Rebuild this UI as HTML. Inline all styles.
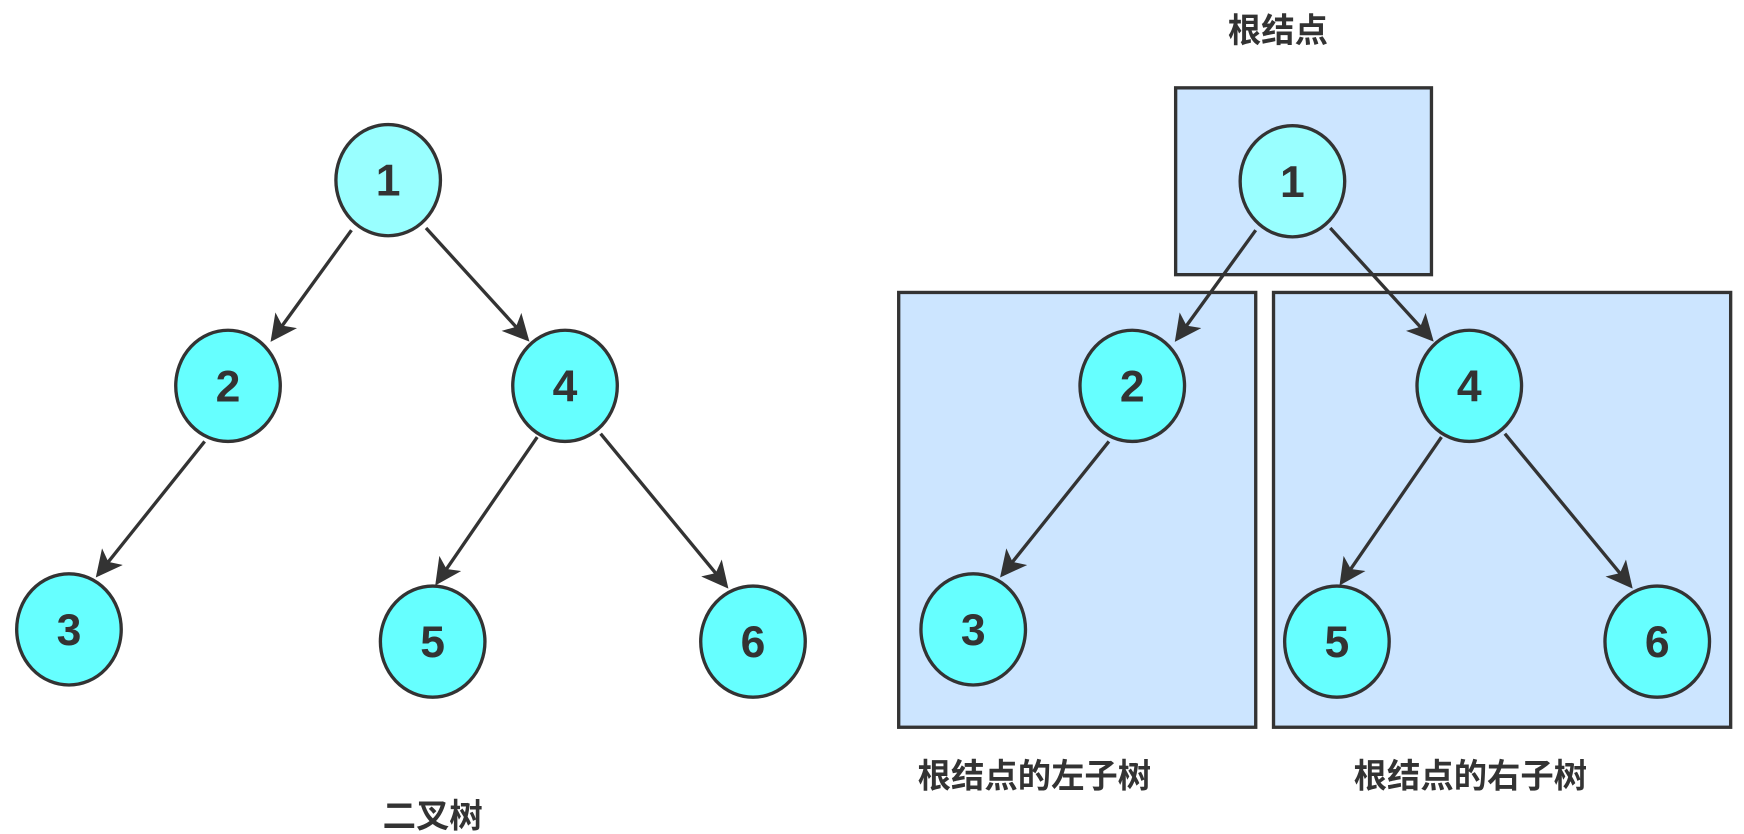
<!DOCTYPE html>
<html><head><meta charset="utf-8"><style>
html,body{margin:0;padding:0;background:#fff;width:1744px;height:834px;overflow:hidden}
svg{display:block}
text{font-family:"Liberation Sans","Noto Sans CJK SC",sans-serif;font-weight:bold;fill:#333}
</style></head><body>
<svg width="1744" height="834" viewBox="0 0 1568 750" preserveAspectRatio="none">
<defs><marker id="a" markerWidth="8" markerHeight="8" refX="7" refY="4" orient="auto" markerUnits="strokeWidth"><path d="M0,0 L8,4 L0,8 L2,4 Z" fill="#333"/></marker></defs>
<g stroke="#333" stroke-width="3" fill="#cce5ff">
<rect x="1057" y="79" width="230" height="168"/>
<rect x="808" y="263" width="321" height="391"/>
<rect x="1145" y="263" width="411" height="391"/>
</g>
<g stroke="#333" stroke-width="3" marker-end="url(#a)">
<line x1="316" y1="207" x2="245" y2="305"/>
<line x1="383" y1="205" x2="474" y2="305"/>
<line x1="184" y1="397" x2="88" y2="517"/>
<line x1="483" y1="393" x2="393" y2="524"/>
<line x1="540" y1="390" x2="653" y2="527"/>
<line x1="1129" y1="207" x2="1058" y2="305"/>
<line x1="1196" y1="205" x2="1287" y2="305"/>
<line x1="997" y1="397" x2="901" y2="517"/>
<line x1="1296" y1="393" x2="1206" y2="524"/>
<line x1="1353" y1="390" x2="1466" y2="527"/>
</g>
<g stroke="#333" stroke-width="3" fill="#66ffff">
<ellipse cx="349" cy="162" rx="47" ry="50" fill="#99ffff"/>
<ellipse cx="205" cy="347" rx="47" ry="50"/>
<ellipse cx="508" cy="347" rx="47" ry="50"/>
<ellipse cx="62" cy="566" rx="47" ry="50"/>
<ellipse cx="389" cy="577" rx="47" ry="50"/>
<ellipse cx="677" cy="577" rx="47" ry="50"/>
<ellipse cx="1162" cy="163" rx="47" ry="50" fill="#99ffff"/>
<ellipse cx="1018" cy="347" rx="47" ry="50"/>
<ellipse cx="1321" cy="347" rx="47" ry="50"/>
<ellipse cx="875" cy="566" rx="47" ry="50"/>
<ellipse cx="1202" cy="577" rx="47" ry="50"/>
<ellipse cx="1490" cy="577" rx="47" ry="50"/>
</g>
<g font-size="40" text-anchor="middle">
<text x="349" y="176">1</text><text x="205" y="361">2</text><text x="508" y="361">4</text>
<text x="62" y="580">3</text><text x="389" y="591">5</text><text x="677" y="591">6</text>
<text x="1162" y="177">1</text><text x="1018" y="361">2</text><text x="1321" y="361">4</text>
<text x="875" y="580">3</text><text x="1202" y="591">5</text><text x="1490" y="591">6</text>
</g>
<g font-size="30" text-anchor="middle">
<text x="1149" y="38">根结点</text>
<text x="930" y="708">根结点的左子树</text>
<text x="1322" y="708">根结点的右子树</text>
<text x="389" y="744">二叉树</text>
</g>
</svg>
</body></html>
